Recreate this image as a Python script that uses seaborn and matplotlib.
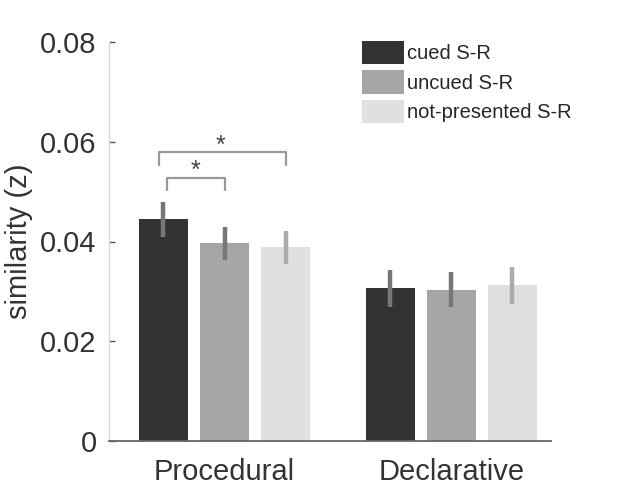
import numpy as np
import pandas as pd
import seaborn as sns
import matplotlib.pyplot as plt

# data
memory = ["Procedural", "Declarative"]
conditions = ["cued S-R", "uncued S-R", "not-presented S-R"]
mean_procedural = [0.0445, 0.0396, 0.0388]
mean_declarative = [0.0306, 0.0303, 0.0312]
err_procedural = [0.0035, 0.0033, 0.0033]
err_declarative = [0.0037, 0.0035, 0.0037]
yticks = [0, 0.02, 0.04, 0.06, 0.08]
ytick_labels = ["0", "0.02", "0.04", "0.06", "0.08"]

bar_colors = ["#333333", "#a6a6a6", "#e0e0e0"]
err_colors = ["#777777", "#777777", "#ababab"]

df = pd.DataFrame({
    "memory": np.repeat(memory, 3),
    "condition": conditions * 2,
    "sim": mean_procedural + mean_declarative,
    "err": err_procedural + err_declarative,
})

sns.set_style("white")
plt.rcParams["font.family"] = ["Liberation Sans", "DejaVu Sans"]

fig = plt.figure(figsize=(6.34, 4.92), dpi=100)
ax = fig.add_axes([109 / 634, 1 - 441 / 492, (551 - 109) / 634, (441 - 42) / 492])

sns.barplot(data=df, x="memory", y="sim", hue="condition", hue_order=conditions,
            palette=bar_colors, width=0.81, gap=0.2, errorbar=None,
            saturation=1, linewidth=0, ax=ax)

# error bars on top of each bar
for k, cont in enumerate(ax.containers):
    sub = df[df["condition"] == conditions[k]]
    for bar, e in zip(cont, sub["err"]):
        cx = bar.get_x() + bar.get_width() / 2
        ax.plot([cx, cx], [bar.get_height() - e, bar.get_height() + e],
                color=err_colors[k], lw=3.2, solid_capstyle="butt", zorder=3)

# significance brackets (procedural)
cxs = [b.get_x() + b.get_width() / 2 for b in (ax.containers[0][0], ax.containers[1][0], ax.containers[2][0])]
bc = "#999999"
ax.plot([cxs[0] - 0.02, cxs[0] - 0.02, cxs[2], cxs[2]], [0.0553, 0.058, 0.058, 0.0553],
        color=bc, lw=1.6, clip_on=False)
ax.plot([cxs[0] + 0.015, cxs[0] + 0.015, cxs[1], cxs[1]], [0.0503, 0.0527, 0.0527, 0.0503],
        color=bc, lw=1.6, clip_on=False)
ax.text((cxs[0] + cxs[2]) / 2 - 0.02, 0.0592, "*", ha="center", va="center",
        fontsize=18, color="#444444")
ax.text((cxs[0] + cxs[1]) / 2 + 0.005, 0.0541, "*", ha="center", va="center",
        fontsize=18, color="#444444")

ax.set_xlim(-0.51, 1.44)
ax.set_ylim(0, 0.08)
ax.set_yticks(yticks)
ax.set_yticklabels(ytick_labels)
ax.set_xlabel("")
ax.set_ylabel("similarity (z)", fontsize=21, color="#333333", labelpad=5)
ax.tick_params(axis="y", direction="in", length=4, width=1, color="#555555",
               labelsize=21, labelcolor="#333333", pad=9, left=True)
ax.tick_params(axis="x", length=0, labelsize=21, labelcolor="#333333", pad=12)

for s in ["top", "right"]:
    ax.spines[s].set_visible(False)
ax.spines["left"].set_color("#d8d8d8")
ax.spines["left"].set_linewidth(1)
ax.spines["bottom"].set_color("#666666")
ax.spines["bottom"].set_linewidth(1.3)

handles, labels = ax.get_legend_handles_labels()
ax.legend(handles, labels, loc="upper left", bbox_to_anchor=(362 / 634, 1 - 41 / 492),
          bbox_transform=fig.transFigure, frameon=False, fontsize=14.5,
          handlelength=2.1, handleheight=1.4, handletextpad=0.15,
          labelspacing=0.3, borderpad=0, borderaxespad=0)

fig.savefig("out.png", dpi=100)
